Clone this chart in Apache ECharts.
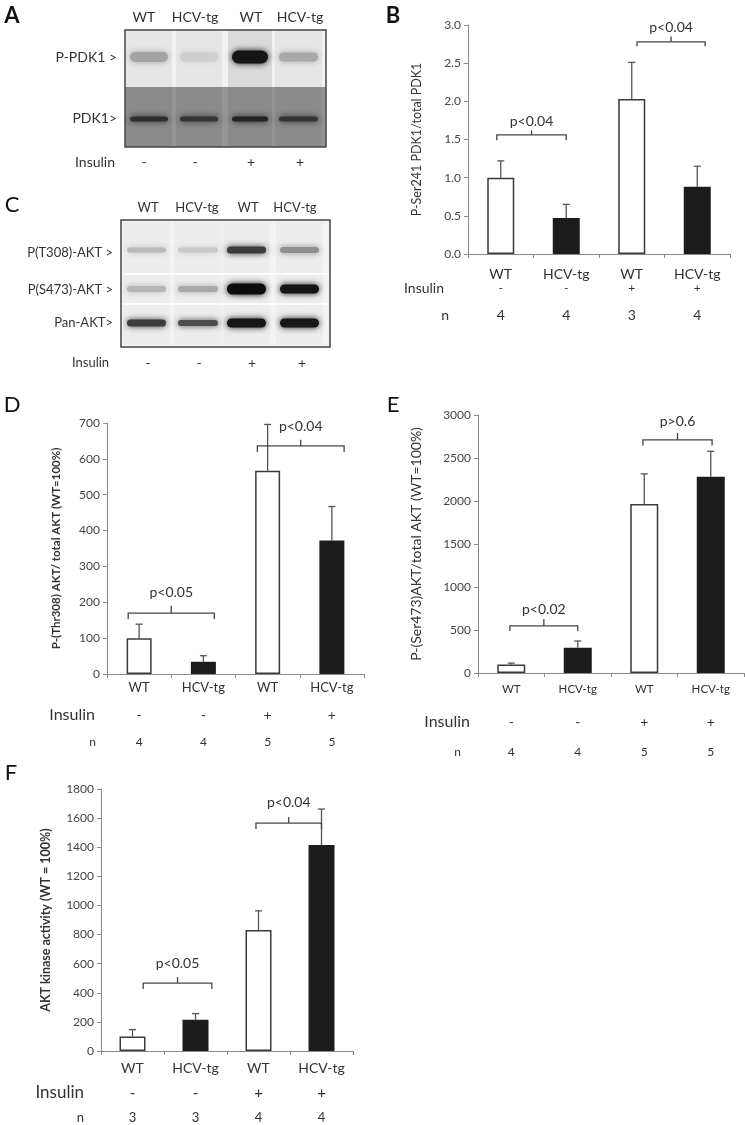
<!DOCTYPE html>
<html>
<head>
<meta charset="utf-8">
<script src="https://cdn.jsdelivr.net/npm/echarts@6/dist/echarts.min.js"></script>
<style>
  html, body { margin: 0; padding: 0; background: #fff; }
  #chart { width: 745px; height: 1125px; }
</style>
</head>
<body>
<div id="chart"></div>
<script>
// shared categories
const groups = ['WT', 'HCV-tg', 'WT', 'HCV-tg']
const insulin = ['-', '-', '+', '+']
const fills = ['#ffffff', '#1c1c1c', '#ffffff', '#1c1c1c']

// B: P-Ser241 PDK1 / total PDK1
const meanB = [1.0, 0.47, 2.03, 0.88]
const errB = [1.22, 0.65, 2.51, 1.15]
const nB = ['4', '4', '3', '4']
// D: P-Thr308 AKT / total AKT
const meanD = [100, 34, 567, 372]
const errD = [139, 51, 696, 467]
const nD = ['4', '4', '5', '5']
// E: P-Ser473 AKT / total AKT
const meanE = [100, 295, 1965, 2283]
const errE = [115, 372, 2315, 2578]
const nE = ['4', '4', '5', '5']
// F: AKT kinase activity
const meanF = [100, 215, 831, 1415]
const errF = [147, 257, 963, 1662]
const nF = ['3', '3', '4', '4']

// significance brackets: [xFrom, xTo, y, yEnd, yTip, yText]
const bracketsB = [[-0.06, 1.0, 1.56, 1.49, 1.62, 1.73], [2.08, 3.12, 2.78, 2.72, 2.85, 2.97]]
const pTextB = ['p<0.04', 'p<0.04']
const bracketsD = [[-0.17, 1.17, 170, 153, 190, 226], [1.84, 3.19, 636, 619, 653, 689]]
const pTextD = ['p<0.05', 'p<0.04']
const bracketsE = [[-0.02, 1.0, 547, 488, 628, 733], [1.98, 3.02, 2710, 2645, 2791, 2919]]
const pTextE = ['p<0.02', 'p>0.6']
const bracketsF = [[0.17, 1.26, 467, 426, 508, 604], [1.96, 3.0, 1566, 1525, 1608, 1704]]
const pTextF = ['p<0.05', 'p<0.04']

// western blot band shades, per lane
const bandsPPDK1 = ['#a4a4a4', '#cecece', '#151515', '#a9a9a9']
const bandsPDK1 = ['#2e2e2e', '#343434', '#232323', '#333333']
const bandsT308 = ['#b9b9b9', '#c9c9c9', '#3c3c3c', '#8f8f8f']
const bandsS473 = ['#b6b6b6', '#a9a9a9', '#0c0c0c', '#151515']
const bandsPan = ['#3c3c3c', '#4c4c4c', '#151515', '#171717']

const FONT = 'Lato, "Liberation Sans", sans-serif'
const TXT = '#333'
const AX = '#8a8a8a'

const panels = [
  {
    grid: { left: 468, top: 25, width: 262, height: 229 },
    means: meanB, errs: errB, ns: nB, brackets: bracketsB, pText: pTextB,
    max: 3, interval: 0.5, fmt: (v) => v.toFixed(1), barWidth: 27,
    name: 'P-Ser241 PDK1/total PDK1', nameGap: 45, nameBold: false, nameSize: 12.5,
    catMargin: 13, catSize: 14,
    insOffset: 34, insGap: 24, insSize: 14, nOffset: 61, nGap: 19, nSize: 14,
  },
  {
    grid: { left: 107, top: 423, width: 257, height: 251 },
    means: meanD, errs: errD, ns: nD, brackets: bracketsD, pText: pTextD,
    max: 700, interval: 100, fmt: (v) => v, barWidth: 25,
    name: 'P-(Thr308) AKT/ total AKT (WT=100%)', nameGap: 45, nameBold: true, nameSize: 11.5,
    catMargin: 7, catSize: 13,
    insOffset: 41, insGap: 12, insSize: 16, nOffset: 68, nGap: 11, nSize: 12,
  },
  {
    grid: { left: 478, top: 415, width: 266, height: 258 },
    means: meanE, errs: errE, ns: nE, brackets: bracketsE, pText: pTextE,
    max: 3000, interval: 500, fmt: (v) => v, barWidth: 28,
    name: 'P-(Ser473)AKT/total AKT (WT=100%)', nameGap: 55, nameBold: false, nameSize: 14,
    catMargin: 10, catSize: 11.5,
    insOffset: 49, insGap: 8, insSize: 16, nOffset: 79, nGap: 17, nSize: 12,
  },
  {
    grid: { left: 101, top: 789, width: 252, height: 262 },
    means: meanF, errs: errF, ns: nF, brackets: bracketsF, pText: pTextF,
    max: 1800, interval: 200, fmt: (v) => v, barWidth: 26,
    name: 'AKT kinase activity (WT = 100%)', nameGap: 49, nameBold: true, nameSize: 12.5,
    catMargin: 10, catSize: 14,
    insOffset: 42, insGap: 17, insSize: 17, nOffset: 67, nGap: 17, nSize: 13,
  },
]

const grid = []
const xAxis = []
const yAxis = []
const series = []

panels.forEach((p, g) => {
  grid.push(p.grid)
  const xi = xAxis.length
  xAxis.push({
    gridIndex: g, type: 'category', data: groups,
    axisLine: { onZero: false, lineStyle: { color: AX, width: 1 } },
    axisTick: { show: true, length: 4, lineStyle: { color: AX } },
    axisLabel: { margin: p.catMargin, fontSize: p.catSize, color: TXT, fontFamily: FONT },
  })
  xAxis.push({
    gridIndex: g, type: 'category', data: insulin, position: 'bottom', offset: p.insOffset,
    axisLine: { show: false, onZero: false }, axisTick: { show: false },
    axisLabel: { margin: 0, verticalAlign: 'middle', fontSize: p.insSize - 2, color: TXT, fontFamily: FONT },
    name: 'Insulin', nameLocation: 'start', nameGap: p.insGap,
    nameTextStyle: { fontSize: p.insSize, color: TXT, fontFamily: FONT, align: 'right', verticalAlign: 'middle' },
  })
  xAxis.push({
    gridIndex: g, type: 'category', data: p.ns, position: 'bottom', offset: p.nOffset,
    axisLine: { show: false, onZero: false }, axisTick: { show: false },
    axisLabel: { margin: 0, verticalAlign: 'middle', fontSize: p.nSize, color: TXT, fontFamily: FONT },
    name: 'n', nameLocation: 'start', nameGap: p.nGap,
    nameTextStyle: { fontSize: p.nSize, color: TXT, fontFamily: FONT, align: 'right', verticalAlign: 'middle' },
  })
  const vi = xAxis.length
  xAxis.push({ gridIndex: g, type: 'value', min: -0.5, max: 3.5, show: false, axisLine: { onZero: false } })

  yAxis.push({
    gridIndex: g, type: 'value', min: 0, max: p.max, interval: p.interval,
    axisLine: { show: true, onZero: false, lineStyle: { color: AX } },
    axisTick: { show: true, length: 4, lineStyle: { color: AX } },
    splitLine: { show: false },
    axisLabel: { color: '#444', fontSize: 12, margin: 7, fontFamily: FONT, formatter: p.fmt },
    name: p.name, nameLocation: 'middle', nameGap: p.nameGap,
    nameTextStyle: {
      fontSize: p.nameSize, color: TXT, fontFamily: FONT,
      fontWeight: p.nameBold ? 'bold' : 'normal',
    },
  })

  series.push({
    type: 'bar', xAxisIndex: xi, yAxisIndex: g, barWidth: p.barWidth, z: 3,
    data: p.means.map((v, i) => ({
      value: v,
      itemStyle: { color: fills[i], borderColor: i % 2 ? '#1c1c1c' : '#3a3a3a', borderWidth: 1.5 },
    })),
  })

  series.push({
    type: 'custom', xAxisIndex: xi, yAxisIndex: g, z: 2,
    data: p.errs.map((e, i) => [i, p.means[i], e]),
    renderItem(params, api) {
      const a = api.coord([api.value(0), api.value(1)])
      const b = api.coord([api.value(0), api.value(2)])
      const st = { stroke: '#555', lineWidth: 1.3 }
      return {
        type: 'group',
        children: [
          { type: 'line', shape: { x1: a[0], y1: a[1], x2: b[0], y2: b[1] }, style: st },
          { type: 'line', shape: { x1: b[0] - 3.5, y1: b[1], x2: b[0] + 3.5, y2: b[1] }, style: st },
        ],
      }
    },
  })

  series.push({
    type: 'custom', xAxisIndex: vi, yAxisIndex: g, z: 4,
    data: p.brackets,
    renderItem(params, api) {
      const x1 = api.value(0)
      const x2 = api.value(1)
      const l = api.coord([x1, api.value(2)])
      const r = api.coord([x2, api.value(2)])
      const le = api.coord([x1, api.value(3)])
      const mid = api.coord([(x1 + x2) / 2, api.value(2)])
      const tip = api.coord([(x1 + x2) / 2, api.value(4)])
      const txt = api.coord([(x1 + x2) / 2, api.value(5)])
      const st = { stroke: '#444', lineWidth: 1.3, fill: null }
      return {
        type: 'group',
        children: [
          { type: 'polyline', shape: { points: [[l[0], le[1]], l, r, [r[0], le[1]]] }, style: st },
          { type: 'line', shape: { x1: mid[0], y1: mid[1], x2: tip[0], y2: tip[1] }, style: st },
          {
            type: 'text', x: txt[0], y: txt[1],
            style: {
              text: p.pText[params.dataIndex], fill: TXT, fontSize: 14, fontFamily: FONT,
              align: 'center', verticalAlign: 'middle',
            },
          },
        ],
      }
    },
  })
})

// ---- western blot drawings (panels A and C) ----
function text(str, x, y, opt = {}) {
  return {
    type: 'text', x, y,
    style: Object.assign({
      text: str, fill: TXT, fontSize: 14, fontFamily: FONT,
      align: 'center', verticalAlign: 'middle',
    }, opt),
  }
}

function bandRow(colors, lanes, yc, heights) {
  return colors.map((c, i) => {
    const h = Array.isArray(heights) ? heights[i] : heights
    return {
      type: 'rect',
      shape: { x: lanes[i][0] + 2, y: yc - h / 2, width: lanes[i][1] - lanes[i][0] - 4, height: h, r: h / 2 },
      style: { fill: c, shadowBlur: 6, shadowColor: c },
    }
  })
}

const lanesA = [[128, 170], [178, 220], [230, 270], [277, 320]]
const lanesC = [[125, 168], [176, 220], [225, 268], [278, 321]]
const titleXA = [144, 195, 251, 300]
const titleXC = [148, 197, 248, 295]
const signXC = [148, 199, 252, 302]

const blotA = [
  { type: 'rect', shape: { x: 125, y: 30, width: 201, height: 57 }, style: { fill: '#f2f2f2' } },
  ...lanesA.map((l, i) => ({
    type: 'rect', shape: { x: l[0] - 2, y: 30, width: l[1] - l[0] + 4, height: 57 },
    style: { fill: i === 2 ? '#dadada' : '#e6e6e6' },
  })),
  { type: 'rect', shape: { x: 125, y: 87, width: 201, height: 60 }, style: { fill: '#959595' } },
  ...lanesA.map((l) => ({
    type: 'rect', shape: { x: l[0] - 2, y: 87, width: l[1] - l[0] + 4, height: 60 },
    style: { fill: '#8b8b8b' },
  })),
  ...bandRow(bandsPPDK1, lanesA, 57, [10, 9, 13, 9]),
  ...bandRow(bandsPDK1, lanesA, 119, 5),
  { type: 'rect', shape: { x: 125, y: 30, width: 201, height: 117 }, style: { fill: null, stroke: '#444', lineWidth: 1.5 } },
  ...groups.map((gname, i) => text(gname, titleXA[i], 17)),
  text('P-PDK1 >', 117, 57, { align: 'right' }),
  text('PDK1>', 117, 118, { align: 'right' }),
  text('Insulin', 75, 162, { align: 'left' }),
  ...insulin.map((s, i) => text(s, titleXA[i], 162)),
]

const blotC = [
  { type: 'rect', shape: { x: 121, y: 220, width: 209, height: 127 }, style: { fill: '#f3f3f3' } },
  ...lanesC.map((l) => ({
    type: 'rect', shape: { x: l[0] - 2, y: 222, width: l[1] - l[0] + 4, height: 123 },
    style: { fill: '#ededed' },
  })),
  { type: 'line', shape: { x1: 122, y1: 274, x2: 329, y2: 274 }, style: { stroke: '#fbfbfb', lineWidth: 2 } },
  { type: 'line', shape: { x1: 122, y1: 304, x2: 329, y2: 304 }, style: { stroke: '#fbfbfb', lineWidth: 2 } },
  ...bandRow(bandsT308, lanesC, 250, [5, 5, 7, 6]),
  ...bandRow(bandsS473, lanesC, 289, [6, 6, 11, 9]),
  ...bandRow(bandsPan, lanesC, 323, [7, 6, 9, 9]),
  { type: 'rect', shape: { x: 121, y: 220, width: 209, height: 127 }, style: { fill: null, stroke: '#444', lineWidth: 1.5 } },
  ...groups.map((gname, i) => text(gname, titleXC[i], 208, { fontSize: 13 })),
  text('P(T308)-AKT >', 113, 253, { align: 'right', fontSize: 13 }),
  text('P(S473)-AKT >', 113, 290, { align: 'right', fontSize: 13 }),
  text('Pan-AKT>', 113, 323, { align: 'right', fontSize: 13 }),
  text('Insulin', 72, 363, { align: 'left', fontSize: 13 }),
  ...insulin.map((s, i) => text(s, signXC[i], 363, { fontSize: 14 })),
]

const letters = [
  text('A', 12, 16, { fontSize: 22, fontWeight: 'bold', fill: '#111' }),
  text('B', 393, 16, { fontSize: 22, fontWeight: 'bold', fill: '#111' }),
  text('C', 12, 205, { fontSize: 22, fill: '#111' }),
  text('D', 12, 405, { fontSize: 22, fill: '#111' }),
  text('E', 393, 405, { fontSize: 22, fill: '#111' }),
  text('F', 11, 773, { fontSize: 22, fill: '#111' }),
]

const chart = echarts.init(document.getElementById('chart'), null, { renderer: 'canvas' })
chart.setOption({
  backgroundColor: '#fff',
  animation: false,
  textStyle: { fontFamily: FONT },
  grid, xAxis, yAxis, series,
  graphic: [...blotA, ...blotC, ...letters],
})
</script>
</body>
</html>
